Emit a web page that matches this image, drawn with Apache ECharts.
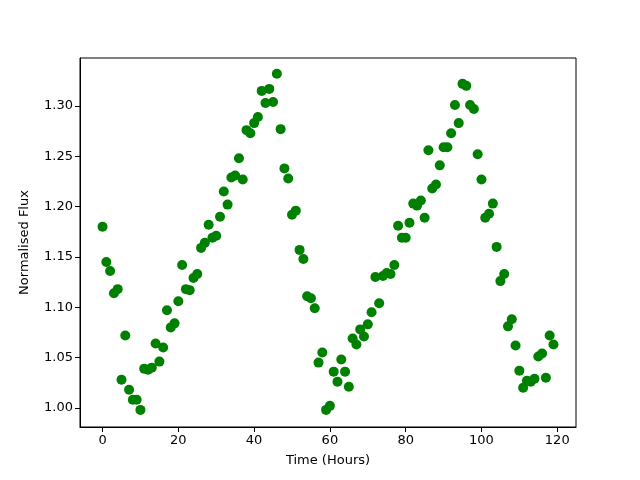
<!DOCTYPE html>
<html>
<head>
<meta charset="utf-8">
<script src="https://cdn.jsdelivr.net/npm/echarts@6/dist/echarts.min.js"></script>
<style>
    body { margin: 0; background: #ffffff; }
    #chart { width: 640px; height: 480px; }
</style>
</head>
<body>
<div id="chart"></div>
<script>
// hours 0..119, one reading each
const hours = [];
for (let h = 0; h < 120; h++) hours.push(h);

const flux = [
    1.180, 1.145, 1.136, 1.114, 1.118, 1.028, 1.072, 1.018, 1.008, 1.008,
    0.998, 1.039, 1.038, 1.040, 1.064, 1.046, 1.060, 1.097, 1.080, 1.084,
    1.106, 1.142, 1.118, 1.117, 1.129, 1.133, 1.159, 1.164, 1.182, 1.169,
    1.171, 1.190, 1.215, 1.202, 1.229, 1.231, 1.248, 1.227, 1.276, 1.273,
    1.283, 1.289, 1.315, 1.303, 1.317, 1.304, 1.332, 1.277, 1.238, 1.228,
    1.192, 1.196, 1.157, 1.148, 1.111, 1.109, 1.099, 1.045, 1.055, 0.998,
    1.002, 1.036, 1.026, 1.048, 1.036, 1.021, 1.069, 1.063, 1.078, 1.071,
    1.083, 1.095, 1.130, 1.104, 1.131, 1.134, 1.133, 1.142, 1.181, 1.169,
    1.169, 1.184, 1.203, 1.201, 1.206, 1.189, 1.256, 1.218, 1.222, 1.241,
    1.259, 1.259, 1.273, 1.301, 1.283, 1.322, 1.320, 1.301, 1.297, 1.252,
    1.227, 1.189, 1.193, 1.203, 1.160, 1.126, 1.133, 1.081, 1.088, 1.062,
    1.037, 1.020, 1.027, 1.026, 1.029, 1.051, 1.054, 1.030, 1.072, 1.063
];

const xTicks = [0, 20, 40, 60, 80, 100, 120];
const yTicks = [1.00, 1.05, 1.10, 1.15, 1.20, 1.25, 1.30];

const points = hours.map((h, i) => [h, flux[i]]);

const font = { fontFamily: 'DejaVu Sans', fontSize: 13, color: '#000' };

const chart = echarts.init(document.getElementById('chart'));
chart.setOption({
    animation: false,
    backgroundColor: '#ffffff',
    grid: {
        left: 80, right: 64, top: 58, bottom: 53,
        show: true, borderColor: '#000', borderWidth: 1
    },
    xAxis: {
        type: 'value',
        min: -5.95, max: 124.95,
        name: 'Time (Hours)',
        nameLocation: 'middle',
        nameGap: 27,
        nameTextStyle: font,
        axisLine: { show: true, onZero: false, lineStyle: { color: '#000' } },
        axisTick: { show: true, length: 5, customValues: xTicks, lineStyle: { color: '#000' } },
        axisLabel: Object.assign({ customValues: xTicks, margin: 7 }, font),
        splitLine: { show: false }
    },
    yAxis: {
        type: 'value',
        min: 0.981, max: 1.3477,
        name: 'Normalised Flux',
        nameLocation: 'middle',
        nameGap: 49,
        nameTextStyle: font,
        axisLine: { show: true, onZero: false, lineStyle: { color: '#000' } },
        axisTick: { show: true, length: 5, customValues: yTicks, lineStyle: { color: '#000' } },
        axisLabel: Object.assign({
            customValues: yTicks, margin: 7,
            formatter: v => v.toFixed(2)
        }, font),
        splitLine: { show: false }
    },
    series: [{
        type: 'scatter',
        data: points,
        symbolSize: 10,
        itemStyle: { color: '#008000', opacity: 1 }
    }]
});
</script>
</body>
</html>
